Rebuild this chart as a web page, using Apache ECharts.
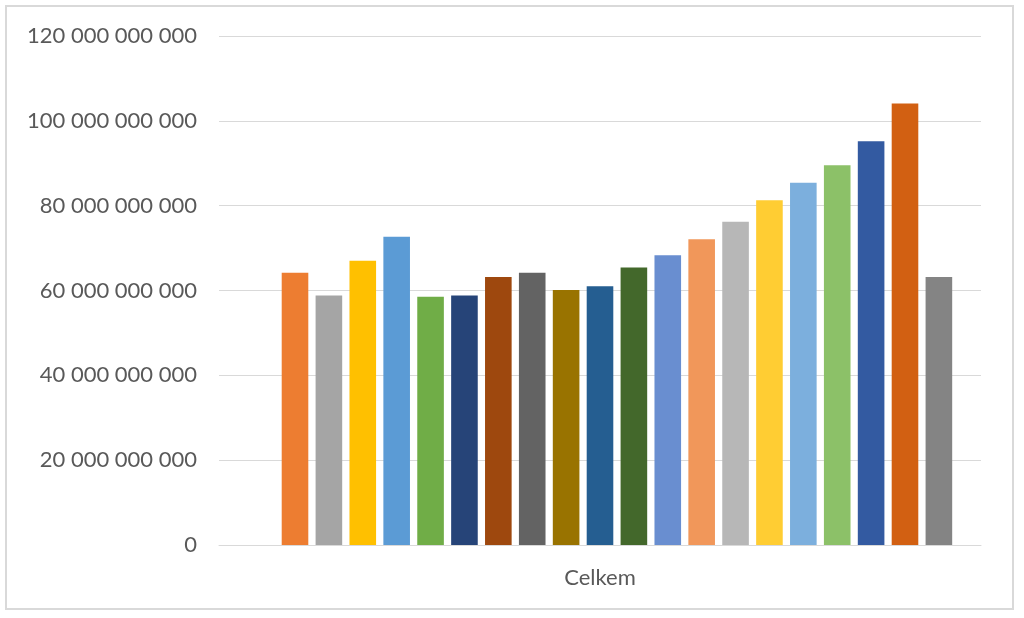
<!DOCTYPE html>
<html>
<head>
<meta charset="utf-8">
<script src="https://cdn.jsdelivr.net/npm/echarts@6/dist/echarts.min.js"></script>
<style>
html,body{margin:0;padding:0;background:#fff;}
#frame{position:absolute;left:5px;top:5px;width:1009px;height:605px;border:2px solid #d9d9d9;box-sizing:border-box;}
#chart{position:absolute;left:0;top:0;width:1024px;height:618px;}
</style>
</head>
<body>
<div id="frame"></div>
<div id="chart"></div>
<script>
const categories = ['Celkem'];
// first series is empty in the source chart (it reserves a slot but draws nothing)
const seriesNames = ['0','1','2','3','4','5','6','7','8','9','10','11','12','13','14','15','16','17','18','19','20'];
const seriesValues = [null, 64.2e9, 58.8e9, 67.0e9, 72.7e9, 58.5e9, 58.8e9, 63.2e9, 64.2e9, 60.1e9, 61.0e9,
                      65.4e9, 68.3e9, 72.1e9, 76.2e9, 81.3e9, 85.4e9, 89.5e9, 95.2e9, 104.1e9, 63.2e9];
const seriesColors = ['#4472C4','#ED7D31','#A5A5A5','#FFC000','#5B9BD5','#70AD47','#264478','#9E480E','#636363','#997300','#255E91',
                      '#43682B','#698ED0','#F1975A','#B7B7B7','#FFCD33','#7CAFDD','#8CC168','#335AA1','#D26012','#848484'];
const yTicks = {min: 0, max: 120e9, interval: 20e9};

function fmt(v){
  return String(Math.round(v)).replace(/\B(?=(\d{3})+(?!\d))/g, ' ');
}

const chart = echarts.init(document.getElementById('chart'), null, {renderer:'canvas'});
const fontFam = 'Lato, "Liberation Sans", sans-serif';
chart.setOption({
  animation: false,
  grid: {left: 219, right: 43, top: 36, bottom: 73, containLabel: false},
  xAxis: {
    type: 'category',
    data: categories,
    axisLine: {show: true, lineStyle: {color: '#d9d9d9', width: 1}},
    axisTick: {show: false},
    axisLabel: {color: '#595959', fontSize: 22, fontFamily: fontFam, margin: 22}
  },
  yAxis: {
    type: 'value',
    min: yTicks.min, max: yTicks.max, interval: yTicks.interval,
    axisLine: {show: false},
    axisTick: {show: false},
    splitLine: {lineStyle: {color: '#d9d9d9', width: 1}},
    axisLabel: {color: '#595959', fontSize: 22, fontFamily: fontFam, margin: 22, formatter: fmt}
  },
  series: seriesValues.map((v, i) => ({
    name: seriesNames[i],
    type: 'bar',
    data: [v],
    barWidth: 26.6,
    barGap: '27.4%',
    itemStyle: {color: seriesColors[i]}
  }))
});
</script>
</body>
</html>
